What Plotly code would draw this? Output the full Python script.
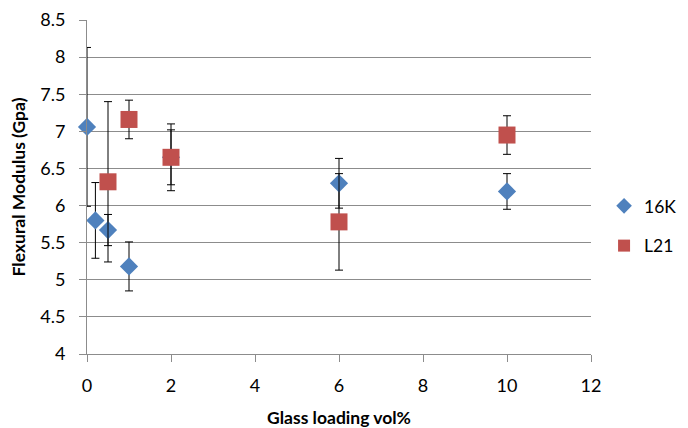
import plotly.graph_objects as go

# 16K series
x_16k = [0, 0.2, 0.5, 1, 2, 6, 10]
y_16k = [7.06, 5.80, 5.67, 5.18, 6.65, 6.30, 6.19]
err_16k = [1.07, 0.51, 0.21, 0.33, 0.37, 0.335, 0.24]

# L21 series
x_l21 = [0.5, 1, 2, 6, 10]
y_l21 = [6.32, 7.16, 6.65, 5.78, 6.95]
err_l21 = [1.08, 0.26, 0.45, 0.65, 0.26]

FONT = "Lato"
grid = "#8c8c8c"

fig = go.Figure()
fig.add_trace(go.Scatter(
    x=x_16k, y=y_16k, mode="markers", name="16K", legendgroup="a",
    marker=dict(symbol="diamond", size=14, color="#4F81BD"),
    error_y=dict(type="data", array=err_16k, visible=True, color="black", thickness=1, width=4),
    cliponaxis=False,
))
fig.add_trace(go.Scatter(
    x=x_l21, y=y_l21, mode="markers", name="L21", legendgroup="b",
    marker=dict(symbol="square", size=17, color="#C0504D"),
    error_y=dict(type="data", array=err_l21, visible=True, color="black", thickness=1, width=4),
    cliponaxis=False,
))

fig.update_layout(
    width=688, height=428,
    margin=dict(l=87, r=97, t=20, b=74),
    paper_bgcolor="white", plot_bgcolor="white",
    font=dict(family=FONT, size=18, color="black"),
    showlegend=True,
    legend=dict(xref="container", yref="container",
                x=0.878, y=0.472, xanchor="left", yanchor="middle",
                font=dict(family=FONT, size=17.5), tracegroupgap=14,
                itemsizing="constant", bgcolor="rgba(0,0,0,0)"),
    xaxis=dict(
        range=[0, 12], dtick=2, tick0=0, automargin=False,
        showgrid=False, zeroline=False,
        showline=True, linecolor=grid, linewidth=1,
        ticks="outside", ticklen=7, tickcolor=grid,
        ticklabelstandoff=8,
        title=dict(text="<b>Glass loading vol%</b>", font=dict(family=FONT, size=17.5), standoff=17),
        tickfont=dict(family=FONT, size=18),
    ),
    yaxis=dict(
        range=[4, 8.5], dtick=0.5, tick0=4, automargin=False,
        showgrid=True, gridcolor=grid, gridwidth=1,
        zeroline=False,
        showline=True, linecolor=grid, linewidth=1,
        ticks="outside", ticklen=7, tickcolor=grid,
        ticklabelstandoff=10,
        title=dict(text="<b>Flexural Modulus (Gpa)</b>", font=dict(family=FONT, size=17.5), standoff=10),
        tickfont=dict(family=FONT, size=18),
    ),
)

fig.write_html("out.html")
